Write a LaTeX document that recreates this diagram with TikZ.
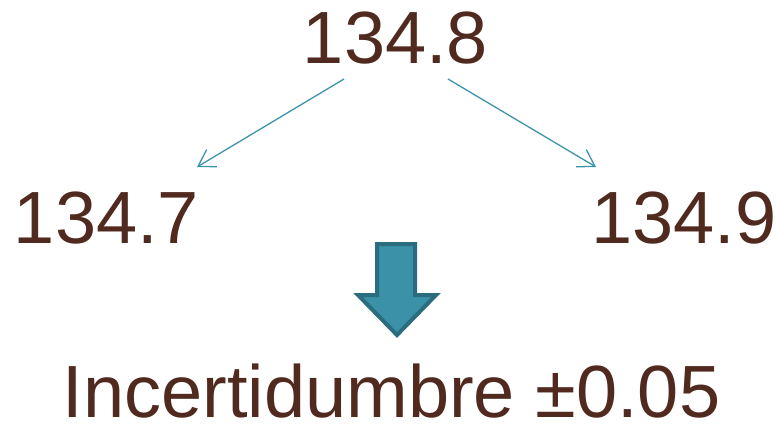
\documentclass[tikz,border=0pt]{standalone}
\usepackage{fontspec}
\setmainfont{Liberation Sans}
\usetikzlibrary{arrows.meta,calc}
\definecolor{txtbrown}{HTML}{512A1F}
\definecolor{thinteal}{HTML}{3A95AB}
\definecolor{arrowfill}{HTML}{3B91A7}
\definecolor{arrowedge}{HTML}{2B6C7E}
\tikzset{
  num/.style={anchor=base, inner sep=0pt, text=txtbrown, font=\fontsize{74}{80}\selectfont},
  thinarrow/.style={draw=thinteal, line width=1.3pt, -{Straight Barb[length=16pt,width=20pt,line width=1.3pt]}},
  bigarrow/.style={fill=arrowfill, draw=arrowedge, line width=4pt, line join=miter}
}
\begin{document}
\begin{tikzpicture}[x=1pt,y=-1pt]
\useasboundingbox (0,0) rectangle (778,428);
\node[num] (top) at (395.5,63.5) {134.8};
\node[num] (left) at (106.5,243) {134.7};
\node[num] (right) at (684,243) {134.9};
\node[num] (bottom) at (391.5,417) {Incertidumbre ±0.05};
\coordinate (ls) at ($(top.base)+(-51.5,15.5)$);
\coordinate (le) at ($(left.base)+(90.5,-76)$);
\coordinate (rs) at ($(top.base)+(52.5,15.5)$);
\coordinate (re) at ($(right.base)+(-88,-76)$);
\draw[thinarrow] (ls) -- (le);
\draw[thinarrow] (rs) -- (re);
\path[bigarrow] (377,244) -- (415,244) -- (415,295) -- (436,295) -- (397,335) -- (358,295) -- (377,295) -- cycle;
\end{tikzpicture}
\end{document}
